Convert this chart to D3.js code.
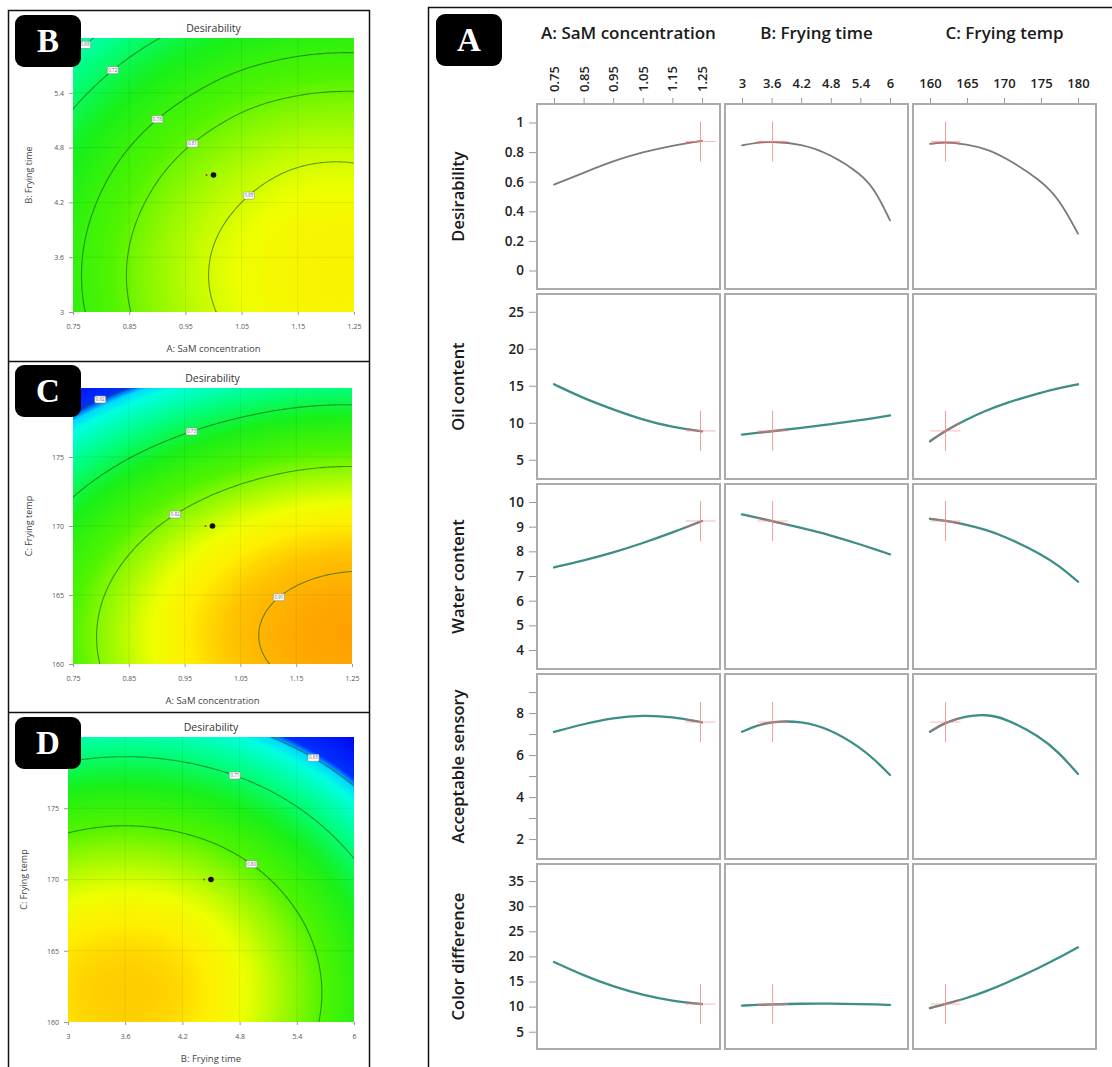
<!DOCTYPE html>
<html>
<head>
<meta charset="utf-8">
<script src="https://cdn.jsdelivr.net/npm/d3@7"></script>
<style>
  body { margin: 0; background: #fff; }
  svg { display: block; }
  text { font-family: "Open Sans", "Noto Sans", sans-serif; }
</style>
</head>
<body>
<script>
// ---- factor ticks used by the contour plots
const samTicks = [0.75, 0.85, 0.95, 1.05, 1.15, 1.25]
const timeTicks = [3, 3.6, 4.2, 4.8, 5.4, 6]
const tempTicks = [160, 165, 170, 175, 180]

// desirability at the tick crossings (first row = lowest y tick)
const desB = [
  [0.771, 0.809, 0.838, 0.858, 0.870, 0.872],
  [0.773, 0.811, 0.840, 0.860, 0.871, 0.874],
  [0.763, 0.801, 0.830, 0.850, 0.862, 0.864],
  [0.742, 0.780, 0.809, 0.829, 0.841, 0.843],
  [0.709, 0.747, 0.776, 0.797, 0.808, 0.811],
  [0.665, 0.703, 0.732, 0.752, 0.764, 0.767]
]
const desC = [
  [0.797, 0.842, 0.876, 0.901, 0.916, 0.922],
  [0.794, 0.838, 0.873, 0.898, 0.913, 0.919],
  [0.756, 0.800, 0.835, 0.860, 0.875, 0.881],
  [0.684, 0.728, 0.762, 0.787, 0.803, 0.808],
  [0.577, 0.621, 0.655, 0.680, 0.696, 0.701]
]
const desD = [
  [0.886, 0.893, 0.886, 0.860, 0.819, 0.766],
  [0.883, 0.890, 0.883, 0.857, 0.816, 0.763],
  [0.843, 0.850, 0.843, 0.819, 0.780, 0.727],
  [0.772, 0.780, 0.772, 0.750, 0.712, 0.658],
  [0.672, 0.679, 0.672, 0.649, 0.611, 0.558]
]
const levelsB = [0.68, 0.72, 0.78, 0.81, 0.85]
const levelsC = [0.62, 0.73, 0.82, 0.91]
const levelsD = [0.63, 0.71, 0.80]
const designB = [1.0, 4.5]
const designC = [1.0, 170]
const designD = [4.5, 170]

// ---- one factor at a time profiles (panel A)
const factorNames = ["A: SaM concentration", "B: Frying time", "C: Frying temp"]
const responseNames = ["Desirability", "Oil content", "Water content", "Acceptable sensory", "Color difference"]
const samX = [0.75, 0.85, 0.95, 1.05, 1.15, 1.25]
const timeX = [3, 3.3, 3.6, 4.2, 4.8, 5.4, 5.7, 6]
const tempX = [160, 162, 165, 167.5, 170, 175, 177.5, 180]
const desirability = [
  [0.58, 0.66, 0.74, 0.80, 0.845, 0.876],
  [0.845, 0.865, 0.872, 0.856, 0.785, 0.655, 0.545, 0.339],
  [0.855, 0.870, 0.852, 0.822, 0.77, 0.61, 0.48, 0.249]
]
const oil = [
  [15.2, 13.3, 11.8, 10.4, 9.4, 8.85],
  [8.4, 8.62, 8.85, 9.3, 9.8, 10.35, 10.65, 11.0],
  [7.5, 8.9, 10.5, 11.6, 12.6, 14.1, 14.7, 15.2]
]
const water = [
  [7.35, 7.63, 7.95, 8.33, 8.76, 9.23],
  [9.5, 9.37, 9.23, 8.95, 8.65, 8.28, 8.08, 7.88],
  [9.32, 9.25, 9.08, 8.88, 8.62, 7.9, 7.4, 6.77]
]
const sensory = [
  [7.1, 7.48, 7.78, 7.9, 7.83, 7.56],
  [7.11, 7.41, 7.59, 7.63, 7.22, 6.36, 5.76, 5.05],
  [7.11, 7.55, 7.87, 7.93, 7.78, 6.86, 6.09, 5.1]
]
const colorDiff = [
  [18.9, 16.2, 14.0, 12.3, 11.1, 10.5],
  [10.2, 10.35, 10.45, 10.6, 10.6, 10.5, 10.45, 10.35],
  [9.7, 10.5, 11.7, 13.0, 14.5, 17.9, 19.8, 21.8]
]
const optimum = [1.245, 3.62, 162.1]
const optimumValues = [0.872, 8.9, 9.23, 7.57, 10.5]
const profileTicksX = [samTicks, timeTicks, tempTicks]
const profileDomainsY = [[-0.125, 1.125], [2.4, 27.4], [3.23, 10.73], [1.05, 9.86], [1.56, 38.4]]
const profileTicksY = [[0, 0.2, 0.4, 0.6, 0.8, 1], [5, 10, 15, 20, 25], [4, 5, 6, 7, 8, 9, 10], [2, 3, 4, 5, 6, 7, 8, 9], [5, 10, 15, 20, 25, 30, 35]]

// ---- page
const svg = d3.select("body").append("svg").attr("width", 1112).attr("height", 1067)
const defs = svg.append("defs")

// colour ramp in the Design-Expert style
const colorScale = d3.scaleLinear()
  .domain([0.55, 0.62, 0.633, 0.65, 0.70, 0.75, 0.80, 0.835, 0.86, 0.88, 0.90, 0.93])
  .range(["#0000f0", "#0030ff", "#00d8ff", "#00ffe0", "#00ff80", "#18f018", "#50f400", "#a8fa00", "#eeff00", "#ffee00", "#ffc400", "#ff9a00"])
  .clamp(true)

// smooth surface through the read grid (Catmull-Rom, for shading only)
function cr(p0, p1, p2, p3, t) {
  return 0.5 * (2 * p1 + (-p0 + p2) * t + (2 * p0 - 5 * p1 + 4 * p2 - p3) * t * t + (-p0 + 3 * p1 - 3 * p2 + p3) * t * t * t)
}
function pad(a) {
  const n = a.length
  return [3 * a[0] - 3 * a[1] + a[2], ...a, 3 * a[n - 1] - 3 * a[n - 2] + a[n - 3]]
}
function surface(grid) {
  const rows = grid.map(pad)
  const cols = rows[0].map((_, i) => pad(rows.map(r => r[i])))
  const g = rows.map((_, j) => cols.map(c => c[j + 1]))
  g.unshift(cols.map(c => c[0]))
  g.push(cols.map(c => c[c.length - 1]))
  const nx = grid[0].length - 1, ny = grid.length - 1
  return (u, v) => {
    const fx = u * nx, fy = v * ny
    const i = Math.max(0, Math.min(Math.floor(fx), nx - 1)), j = Math.max(0, Math.min(Math.floor(fy), ny - 1))
    const tx = fx - i, ty = fy - j
    const row = k => cr(g[j + k][i], g[j + k][i + 1], g[j + k][i + 2], g[j + k][i + 3], tx)
    return cr(row(0), row(1), row(2), row(3), ty)
  }
}

function letterBox(x, y, letter) {
  svg.append("rect").attr("x", x).attr("y", y).attr("width", 66).attr("height", 52).attr("rx", 9).attr("fill", "#000")
  svg.append("text").attr("x", x + 33).attr("y", y + 37).attr("text-anchor", "middle")
    .style("font-family", "'Liberation Serif', 'DejaVu Serif', serif").style("font-weight", 700)
    .style("font-size", "33px").attr("fill", "#fff").text(letter)
}

// frames
svg.append("rect").attr("x", 8.5).attr("y", 10.5).attr("width", 361).attr("height", 1080).attr("fill", "none").attr("stroke", "#111").attr("stroke-width", 1.5)
svg.append("line").attr("x1", 8.5).attr("x2", 369.5).attr("y1", 361.5).attr("y2", 361.5).attr("stroke", "#111").attr("stroke-width", 1.5)
svg.append("line").attr("x1", 8.5).attr("x2", 369.5).attr("y1", 712.5).attr("y2", 712.5).attr("stroke", "#111").attr("stroke-width", 1.5)
svg.append("rect").attr("x", 428.5).attr("y", 7.5).attr("width", 700).attr("height", 1080).attr("fill", "none").attr("stroke", "#111").attr("stroke-width", 1.5)

// ---- contour panels B, C, D
const contourPanels = [
  { key: "B", grid: desB, levels: levelsB, xt: samTicks, yt: timeTicks, design: designB, box: [73, 38, 281, 274],
    xName: "A: SaM concentration", yName: "B: Frying time", letter: [15, 15],
    spots: [[0.77, 5.95], [0.82, 5.65], [0.875, 5.28], [0.955, 4.88], [1.054, 4.35]] },
  { key: "C", grid: desC, levels: levelsC, xt: samTicks, yt: tempTicks, design: designC, box: [73, 388, 279, 276],
    xName: "A: SaM concentration", yName: "C: Frying temp", letter: [15, 365],
    spots: [[0.793, 179.7], [0.956, 177.8], [0.93, 170.9], [1.115, 165]] },
  { key: "D", grid: desD, levels: levelsD, xt: timeTicks, yt: tempTicks, design: designD, box: [68, 737, 286, 285],
    xName: "B: Frying time", yName: "C: Frying temp", letter: [15, 717],
    spots: [[5.57, 178.5], [4.77, 177.7], [4.93, 171.2]] }
]

contourPanels.forEach(p => {
  const [px, py, pw, ph] = p.box
  const x = d3.scaleLinear().domain(d3.extent(p.xt)).range([px, px + pw])
  const y = d3.scaleLinear().domain(d3.extent(p.yt)).range([py + ph, py])
  const f = surface(p.grid)
  const g = svg.append("g").attr("id", "panel" + p.key)

  // shaded map
  const cv = document.createElement("canvas")
  cv.width = pw; cv.height = ph
  const ctx = cv.getContext("2d")
  const img = ctx.createImageData(pw, ph)
  for (let j = 0; j < ph; j++) {
    for (let i = 0; i < pw; i++) {
      const c = d3.rgb(colorScale(f((i + 0.5) / pw, 1 - (j + 0.5) / ph)))
      const k = 4 * (j * pw + i)
      img.data[k] = c.r; img.data[k + 1] = c.g; img.data[k + 2] = c.b; img.data[k + 3] = 255
    }
  }
  ctx.putImageData(img, 0, 0)
  g.append("image").attr("href", cv.toDataURL()).attr("x", px).attr("y", py).attr("width", pw).attr("height", ph)

  // faint grid at the ticks
  g.selectAll(".gx").data(p.xt.slice(1, -1)).join("line")
    .attr("x1", d => x(d)).attr("x2", d => x(d)).attr("y1", py).attr("y2", py + ph)
    .attr("stroke", "rgba(0,0,0,0.07)")
  g.selectAll(".gy").data(p.yt.slice(1, -1)).join("line")
    .attr("y1", d => y(d)).attr("y2", d => y(d)).attr("x1", px).attr("x2", px + pw)
    .attr("stroke", "rgba(0,0,0,0.07)")

  // contour lines
  const N = 121, M = 121
  const vals = new Array(N * M)
  for (let j = 0; j < M; j++) for (let i = 0; i < N; i++) vals[j * N + i] = f(i / (N - 1), 1 - j / (M - 1))
  const toPx = (gx, gy) => [px + (gx - 0.5) / (N - 1) * pw, py + (gy - 0.5) / (M - 1) * ph]
  const path = d3.geoPath(d3.geoTransform({ point(a, b) { const q = toPx(a, b); this.stream.point(q[0], q[1]) } }))
  const contours = d3.contours().size([N, M]).thresholds(p.levels)(vals)
  defs.append("clipPath").attr("id", "clip" + p.key).append("rect").attr("x", px).attr("y", py).attr("width", pw).attr("height", ph)
  g.append("g").attr("clip-path", `url(#clip${p.key})`)
    .selectAll("path").data(contours).join("path")
    .attr("d", path).attr("fill", "none").attr("stroke", "rgba(20,85,20,0.6)").attr("stroke-width", 1.1)

  // contour labels, snapped onto their line
  contours.forEach((c, ci) => {
    const spot = p.spots[ci]
    if (!spot) return
    const sx = x(spot[0]), sy = y(spot[1])
    let best = null, bd = Infinity
    c.coordinates.forEach(poly => poly.forEach(ring => ring.forEach(([a, b]) => {
      const [qx, qy] = toPx(a, b)
      if (qx < px + 5 || qx > px + pw - 5 || qy < py + 3 || qy > py + ph - 3) return
      const d = (qx - sx) ** 2 + (qy - sy) ** 2
      if (d < bd) { bd = d; best = [qx, qy] }
    })))
    if (!best) best = [sx, sy]
    g.append("rect").attr("x", best[0] - 5.5).attr("y", best[1] - 3.5).attr("width", 11).attr("height", 7).attr("rx", 1.2)
      .attr("fill", "#fff").attr("stroke", "#8a8a8a").attr("stroke-width", 0.6)
    g.append("text").attr("x", best[0]).attr("y", best[1] + 1.6).attr("text-anchor", "middle")
      .style("font-size", "4.5px").attr("fill", "#666").text(d3.format(".2f")(c.value))
  })

  // design point
  g.append("circle").attr("cx", x(p.design[0]) - 7).attr("cy", y(p.design[1])).attr("r", 1).attr("fill", "#a04040")
  g.append("circle").attr("cx", x(p.design[0])).attr("cy", y(p.design[1])).attr("r", 2.8).attr("fill", "#1a0a0a")

  // axes (the top y tick sits under the letter box)
  const fmtX = p.xt === samTicks ? d3.format(".2f") : d3.format("")
  const ax = g.append("g").attr("transform", `translate(0,${py + ph})`)
    .call(d3.axisBottom(x).tickValues(p.xt).tickFormat(fmtX).tickSize(3).tickPadding(9))
  const ay = g.append("g").attr("transform", `translate(${px},0)`)
    .call(d3.axisLeft(y).tickValues(p.yt.slice(0, -1)).tickFormat(d3.format("")).tickSize(4).tickPadding(5))
  ;[ax, ay].forEach(a => {
    a.select(".domain").remove()
    a.selectAll("line").attr("stroke", "#999")
    a.selectAll("text").style("font-size", "7px").attr("fill", "#555").style("font-family", "'Open Sans', sans-serif")
  })

  g.append("text").attr("x", px + pw / 2).attr("y", py - 6).attr("text-anchor", "middle")
    .style("font-size", "10.5px").attr("fill", "#333").text("Desirability")
  g.append("text").attr("x", px + pw / 2).attr("y", py + ph + 39.5).attr("text-anchor", "middle")
    .style("font-size", "9.5px").attr("fill", "#444").text(p.xName)
  g.append("text").attr("transform", `translate(${px - 44},${py + ph / 2}) rotate(-90)`).attr("dy", "0.35em")
    .attr("text-anchor", "middle").style("font-size", "9px").attr("fill", "#444").text(p.yName)

  letterBox(p.letter[0], p.letter[1], p.key)
})

// ---- panel A: profile grid
const profiles = [desirability, oil, water, sensory, colorDiff]
const factorX = [samX, timeX, tempX]
const boxW = 183, boxH = 185, col0 = 537, row0 = 104, colStep = 188, rowStep = 190
const gA = svg.append("g").attr("id", "panelA")

responseNames.forEach((name, r) => {
  const by = row0 + r * rowStep
  const y = d3.scaleLinear().domain(profileDomainsY[r]).range([by + boxH, by])

  factorNames.forEach((fname, c) => {
    const bx = col0 + c * colStep
    const xt = profileTicksX[c]
    const x = d3.scaleLinear().domain(d3.extent(xt)).range([bx + 17, bx + boxW - 18])
    const cell = gA.append("g")
    cell.append("rect").attr("x", bx).attr("y", by).attr("width", boxW).attr("height", boxH)
      .attr("fill", "#fff").attr("stroke", "#ababab").attr("stroke-width", 2)

    const pts = factorX[c].map((v, i) => [v, profiles[r][c][i]])
    const line = d3.line().x(d => x(d[0])).y(d => y(d[1])).curve(d3.curveBasis)
    cell.append("path").datum(pts).attr("d", line)
      .attr("fill", "none")
      .attr("stroke", r === 0 ? "#7a7a7a" : "#3e8e87")
      .attr("stroke-width", r === 0 ? 1.8 : 2.3)
      .attr("stroke-linecap", "round")

    // optimum crosshair, the curve turns reddish under it
    const ox = x(optimum[c]), oy = y(optimumValues[r])
    const cid = `hair${r}${c}`
    defs.append("clipPath").attr("id", cid).append("rect")
      .attr("x", ox - 15).attr("y", by).attr("width", 30).attr("height", boxH)
    cell.append("path").datum(pts).attr("d", line).attr("clip-path", `url(#${cid})`)
      .attr("fill", "none").attr("stroke", "#d06a6a").attr("stroke-width", 2).attr("opacity", 0.55)
    cell.append("line").attr("x1", ox).attr("x2", ox).attr("y1", oy - 20).attr("y2", oy + 20)
      .attr("stroke", "#f28b8b").attr("stroke-width", 1).attr("opacity", 0.85)
    cell.append("line").attr("x1", ox - 15).attr("x2", ox + 15).attr("y1", oy).attr("y2", oy)
      .attr("stroke", "#f28b8b").attr("stroke-width", 1).attr("opacity", 0.6)

    // top axis over the first row
    if (r === 0) {
      const fmt = c === 0 ? d3.format(".2f") : d3.format("")
      const at = cell.append("g").attr("transform", `translate(0,${by - 1})`)
        .call(d3.axisTop(x).tickValues(xt).tickFormat(fmt).tickSize(5).tickPadding(10))
      at.select(".domain").remove()
      at.selectAll("line").attr("stroke", "#999")
      at.selectAll("text").style("font-size", "13px").style("font-weight", 600).attr("fill", "#222")
        .style("font-family", "'Open Sans', sans-serif")
      if (c === 0) {
        at.selectAll("text").attr("transform", "rotate(-90)").attr("x", 11).attr("y", 0)
          .attr("dy", "0.35em").attr("text-anchor", "start")
      }
      gA.append("text").attr("x", bx + boxW / 2).attr("y", 39).attr("text-anchor", "middle")
        .style("font-size", "17px").style("font-weight", 600).attr("fill", "#1a1a1a").text(fname)
    }
  })

  // left axis and row name
  const yt = profileTicksY[r]
  const fmtY = r === 3 ? (d => d % 2 === 0 ? d : "") : d3.format("")
  const al = gA.append("g").attr("transform", `translate(${col0 - 1},0)`)
    .call(d3.axisLeft(y).tickValues(yt).tickFormat(fmtY).tickSize(7).tickPadding(5))
  al.select(".domain").remove()
  al.selectAll("line").attr("stroke", "#999")
  al.selectAll("text").style("font-size", "13.5px").style("font-weight", 600).attr("fill", "#222")
    .style("font-family", "'Open Sans', sans-serif")
  gA.append("text").attr("transform", `translate(458,${by + boxH / 2}) rotate(-90)`).attr("dy", "0.35em")
    .attr("text-anchor", "middle").style("font-size", "16.5px").style("font-weight", 600).attr("fill", "#1a1a1a").text(name)
})

letterBox(436, 14, "A")
</script>
</body>
</html>
